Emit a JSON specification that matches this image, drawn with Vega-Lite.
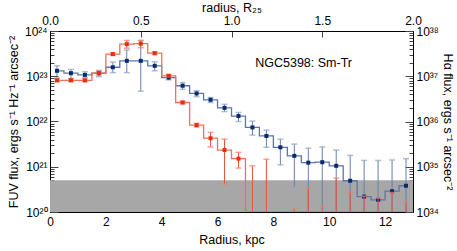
{
  "$schema": "https://vega.github.io/schema/vega-lite/v6.json",
  "width": 363,
  "height": 181,
  "autosize": "none",
  "padding": {"left": 50, "top": 31, "right": 44, "bottom": 39},
  "config": {
    "font": "Liberation Sans",
    "view": {"stroke": "black", "strokeWidth": 1},
    "axis": {"labelFontSize": 12, "titleFontSize": 12.5, "titleFontWeight": "normal", "labelColor": "black", "titleColor": "black", "domainColor": "black", "tickColor": "#444", "grid": false, "labelOverlap": false, "labelFlush": false}
  },
  "data": {"values": [
    {"r": 0.25, "fuv": 1.32e23, "fuv_lo": 9.12e22, "fuv_hi": 1.70e23, "ha": 8.13e36, "ha_lo": 7.59e36, "ha_hi": 8.71e36},
    {"r": 0.75, "fuv": 1.17e23, "fuv_lo": 8.91e22, "fuv_hi": 1.41e23, "ha": 8.13e36, "ha_lo": 7.59e36, "ha_hi": 8.71e36},
    {"r": 1.25, "fuv": 1.07e23, "fuv_lo": 9.33e22, "fuv_hi": 1.26e23, "ha": 8.13e36, "ha_lo": 7.59e36, "ha_hi": 8.71e36},
    {"r": 1.75, "fuv": 1.17e23, "fuv_lo": 9.77e22, "fuv_hi": 1.35e23, "ha": 1.17e37, "ha_lo": 1.07e37, "ha_hi": 1.29e37},
    {"r": 2.25, "fuv": 1.58e23, "fuv_lo": 1.20e23, "fuv_hi": 2.04e23, "ha": 3.09e37, "ha_lo": 2.88e37, "ha_hi": 3.31e37},
    {"r": 2.75, "fuv": 2.19e23, "fuv_lo": 1.20e23, "fuv_hi": 3.80e23, "ha": 5.13e37, "ha_lo": 4.17e37, "ha_hi": 6.17e37},
    {"r": 3.25, "fuv": 2.19e23, "fuv_lo": 4.68e22, "fuv_hi": 6.17e23, "ha": 5.25e37, "ha_lo": 4.27e37, "ha_hi": 6.17e37},
    {"r": 3.75, "fuv": 1.70e23, "fuv_lo": 1.32e23, "fuv_hi": 2.09e23, "ha": 3.24e37, "ha_lo": 3.02e37, "ha_hi": 3.47e37},
    {"r": 4.25, "fuv": 9.33e22, "fuv_lo": 8.32e22, "fuv_hi": 1.07e23, "ha": 1.02e37, "ha_lo": 9.55e36, "ha_hi": 1.10e37},
    {"r": 4.75, "fuv": 6.17e22, "fuv_lo": 5.13e22, "fuv_hi": 7.24e22, "ha": 2.63e36, "ha_lo": 2.45e36, "ha_hi": 2.82e36},
    {"r": 5.25, "fuv": 4.17e22, "fuv_lo": 3.55e22, "fuv_hi": 4.79e22, "ha": 8.32e35, "ha_lo": 7.59e35, "ha_hi": 9.12e35},
    {"r": 5.75, "fuv": 3.02e22, "fuv_lo": 2.63e22, "fuv_hi": 3.39e22, "ha": 4.27e35, "ha_lo": 2.75e35, "ha_hi": 5.75e35},
    {"r": 6.25, "fuv": 2.00e22, "fuv_lo": 1.66e22, "fuv_hi": 2.40e22, "ha": 2.34e35, "ha_lo": 4.17e34, "ha_hi": 4.07e35},
    {"r": 6.75, "fuv": 1.32e22, "fuv_lo": 1.00e22, "fuv_hi": 1.58e22, "ha": 1.51e35, "ha_lo": 9.33e34, "ha_hi": 2.09e35},
    {"r": 7.25, "fuv": 7.41e21, "fuv_lo": 5.01e21, "fuv_hi": 1.02e22, "ha": 1e34, "ha_lo": 5e33, "ha_hi": 1.05e35},
    {"r": 7.75, "fuv": 4.79e21, "fuv_lo": 2.69e21, "fuv_hi": 6.46e21, "ha": 1e34, "ha_lo": 5e33, "ha_hi": 1.47e35},
    {"r": 8.25, "fuv": 2.69e21, "fuv_lo": 1.10e21, "fuv_hi": 4.07e21, "ha": 1e34, "ha_lo": 5e33, "ha_hi": 1e34},
    {"r": 8.75, "fuv": 1.74e21, "fuv_lo": 3.55e20, "fuv_hi": 3.16e21, "ha": 1e34, "ha_lo": 5e33, "ha_hi": 1.17e34},
    {"r": 9.25, "fuv": 1.23e21, "fuv_lo": 5e19, "fuv_hi": 2.57e21, "ha": 1e34, "ha_lo": 5e33, "ha_hi": 3.39e34},
    {"r": 9.75, "fuv": 1.26e21, "fuv_lo": 1.15e20, "fuv_hi": 2.75e21, "ha": 1e34, "ha_lo": 5e33, "ha_hi": 1.29e34},
    {"r": 10.25, "fuv": 1.05e21, "fuv_lo": 5e19, "fuv_hi": 2.34e21, "ha": 1e34, "ha_lo": 5e33, "ha_hi": 5.62e34},
    {"r": 10.75, "fuv": 4.90e20, "fuv_lo": 5e19, "fuv_hi": 1.78e21, "ha": 1e34, "ha_lo": 5e33, "ha_hi": 2.75e34},
    {"r": 11.25, "fuv": 2.19e20, "fuv_lo": 5e19, "fuv_hi": 1.38e21, "ha": 1e34, "ha_lo": 5e33, "ha_hi": 2.24e34},
    {"r": 11.75, "fuv": 1.86e20, "fuv_lo": 5e19, "fuv_hi": 1.38e21, "ha": 1e34, "ha_lo": 5e33, "ha_hi": 2.04e34},
    {"r": 12.25, "fuv": 2.88e20, "fuv_lo": 5e19, "fuv_hi": 1.41e21, "ha": 1e34, "ha_lo": 5e33, "ha_hi": 2.69e34},
    {"r": 12.75, "fuv": 3.80e20, "fuv_lo": 5e19, "fuv_hi": 1.51e21, "ha": 1e34, "ha_lo": 5e33, "ha_hi": 1.62e34}
  ]},
  "layer": [
    {
      "layer": [
        {
          "data": {"values": [{}]},
          "mark": {"type": "rect", "color": "#a6a7a6", "clip": true},
          "encoding": {
            "x": {"datum": 0, "type": "quantitative", "scale": {"domain": [0, 13], "nice": false, "zero": false},
              "axis": {"orient": "bottom", "title": "Radius, kpc", "titlePadding": 6, "labelOverlap": false,
                "values": [0, 0.5, 1, 1.5, 2, 2.5, 3, 3.5, 4, 4.5, 5, 5.5, 6, 6.5, 7, 7.5, 8, 8.5, 9, 9.5, 10, 10.5, 11, 11.5, 12, 12.5, 13],
                "labelExpr": "datum.value % 2 == 0 ? datum.value : ' '",
                "tickSize": {"condition": {"test": "datum.value % 2 == 0", "value": -7}, "value": -4},
                "labelPadding": 11}},
            "x2": {"datum": 13},
            "y": {"datum": 5e20, "type": "quantitative", "scale": {"type": "log", "domain": [1e20, 1e24], "nice": false},
              "axis": {"orient": "left", "title": "FUV flux, ergs s⁻¹ Hz⁻¹ arcsec⁻²", "titlePadding": 4, "labelOverlap": false,
                "values": [1e20, 2e20, 3e20, 4e20, 5e20, 6e20, 7e20, 8e20, 9e20, 1e21, 2e21, 3e21, 4e21, 5e21, 6e21, 7e21, 8e21, 9e21, 1e22, 2e22, 3e22, 4e22, 5e22, 6e22, 7e22, 8e22, 9e22, 1e23, 2e23, 3e23, 4e23, 5e23, 6e23, 7e23, 8e23, 9e23, 1e24],
                "labelExpr": "datum.value==1e20?'10²⁰':datum.value==1e21?'10²¹':datum.value==1e22?'10²²':datum.value==1e23?'10²³':datum.value==1e24?'10²⁴':' '",
                "tickSize": {"condition": {"test": "indexof([1e20,1e21,1e22,1e23,1e24], datum.value) >= 0", "value": -8}, "value": -4},
                "labelPadding": 11}},
            "y2": {"datum": 1e20}
          }
        },
        {
          "mark": {"type": "line", "interpolate": "step", "color": "#5b77a8", "strokeWidth": 1.3, "clip": true},
          "encoding": {
            "x": {"field": "r", "type": "quantitative"},
            "y": {"field": "fuv", "type": "quantitative"}
          }
        },
        {
          "mark": {"type": "rule", "color": "#6580b0", "strokeWidth": 1, "clip": true},
          "encoding": {
            "x": {"field": "r", "type": "quantitative"},
            "y": {"field": "fuv_lo", "type": "quantitative"},
            "y2": {"field": "fuv_hi"}
          }
        },
        {
          "mark": {"type": "tick", "orient": "horizontal", "color": "#8fa2c4", "size": 6, "thickness": 1.5, "clip": true},
          "encoding": {
            "x": {"field": "r", "type": "quantitative"},
            "y": {"field": "fuv_hi", "type": "quantitative"}
          }
        },
        {
          "mark": {"type": "tick", "orient": "horizontal", "color": "#8fa2c4", "size": 6, "thickness": 1.5, "clip": true},
          "encoding": {
            "x": {"field": "r", "type": "quantitative"},
            "y": {"field": "fuv_lo", "type": "quantitative"}
          }
        },
        {
          "mark": {"type": "point", "shape": "square", "filled": true, "size": 16, "color": "#0b2a6c", "opacity": 1, "clip": true},
          "encoding": {
            "x": {"field": "r", "type": "quantitative"},
            "y": {"field": "fuv", "type": "quantitative"}
          }
        },
        {
          "data": {"values": [{}]},
          "mark": {"type": "text", "text": "NGC5398: Sm-Tr", "align": "left", "baseline": "middle", "fontSize": 12.5, "color": "black"},
          "encoding": {
            "x": {"datum": 7.35, "type": "quantitative"},
            "y": {"datum": 1.95e23, "type": "quantitative"}
          }
        }
      ]
    },
    {
      "layer": [
        {
          "mark": {"type": "line", "interpolate": "step", "color": "#f07058", "strokeWidth": 1.3, "clip": true},
          "encoding": {
            "x": {"field": "r", "type": "quantitative", "scale": {"domain": [0, 13], "nice": false, "zero": false},
              "axis": {"orient": "top", "title": "radius, R₂₅", "titlePadding": 0, "labelOverlap": false,
                "values": [0, 3.25, 6.5, 9.75, 13],
                "labelExpr": "format(datum.value / 6.5, '.1f')",
                "tickSize": -6,
                "labelPadding": 10}},
            "y": {"field": "ha", "type": "quantitative", "scale": {"type": "log", "domain": [1e34, 1e38], "nice": false},
              "axis": {"orient": "right", "title": "Hα flux, ergs s⁻¹ arcsec⁻²", "titlePadding": 2, "labelOverlap": false,
                "values": [1e34, 2e34, 3e34, 4e34, 5e34, 6e34, 7e34, 8e34, 9e34, 1e35, 2e35, 3e35, 4e35, 5e35, 6e35, 7e35, 8e35, 9e35, 1e36, 2e36, 3e36, 4e36, 5e36, 6e36, 7e36, 8e36, 9e36, 1e37, 2e37, 3e37, 4e37, 5e37, 6e37, 7e37, 8e37, 9e37, 1e38],
                "labelExpr": "datum.value==1e34?'10³⁴':datum.value==1e35?'10³⁵':datum.value==1e36?'10³⁶':datum.value==1e37?'10³⁷':datum.value==1e38?'10³⁸':' '",
                "tickSize": {"condition": {"test": "indexof([1e34,1e35,1e36,1e37,1e38], datum.value) >= 0", "value": -8}, "value": -4},
                "labelPadding": 11}}
          }
        },
        {
          "mark": {"type": "rule", "color": "#e8553a", "strokeWidth": 1, "clip": true},
          "encoding": {
            "x": {"field": "r", "type": "quantitative"},
            "y": {"field": "ha_lo", "type": "quantitative"},
            "y2": {"field": "ha_hi"}
          }
        },
        {
          "mark": {"type": "tick", "orient": "horizontal", "color": "#f0806a", "size": 6, "thickness": 1.5, "clip": true},
          "encoding": {
            "x": {"field": "r", "type": "quantitative"},
            "y": {"field": "ha_hi", "type": "quantitative"}
          }
        },
        {
          "mark": {"type": "tick", "orient": "horizontal", "color": "#f0806a", "size": 6, "thickness": 1.5, "clip": true},
          "encoding": {
            "x": {"field": "r", "type": "quantitative"},
            "y": {"field": "ha_lo", "type": "quantitative"}
          }
        },
        {
          "transform": [{"filter": "datum.ha > 1e34"}],
          "mark": {"type": "point", "shape": "square", "filled": true, "size": 16, "color": "#e4300f", "opacity": 1, "clip": true},
          "encoding": {
            "x": {"field": "r", "type": "quantitative"},
            "y": {"field": "ha", "type": "quantitative"}
          }
        }
      ]
    }
  ],
  "resolve": {"scale": {"x": "independent", "y": "independent"}, "axis": {"x": "independent", "y": "independent"}}
}
